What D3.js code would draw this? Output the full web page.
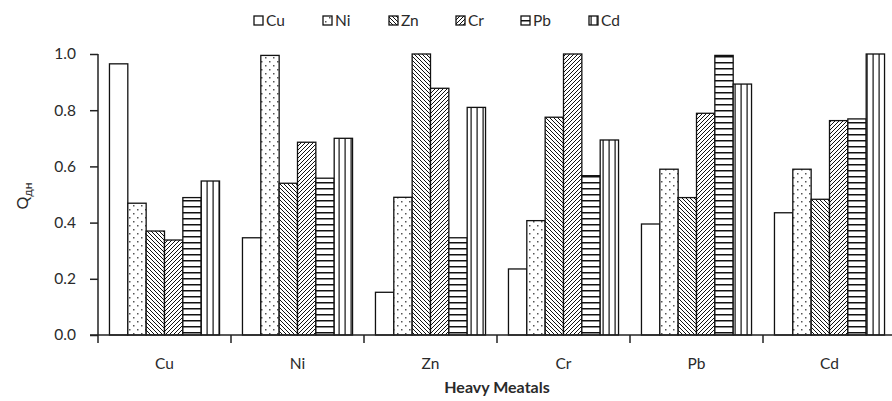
<!DOCTYPE html>
<html><head><meta charset="utf-8">
<script src="https://cdn.jsdelivr.net/npm/d3@7/dist/d3.min.js"></script>
<style>body{margin:0;background:#fff}svg{display:block}text{font-family:Lato,"Open Sans",sans-serif;fill:#2a2a2a}</style>
</head><body><svg id="c" width="892" height="401"></svg>
<script>
const categories = ["Cu","Ni","Zn","Cr","Pb","Cd"];
const series = ["Cu","Ni","Zn","Cr","Pb","Cd"];
const valCu = [0.965, 0.346, 0.152, 0.235, 0.395, 0.435];
const valNi = [0.469, 0.995, 0.490, 0.407, 0.590, 0.590];
const valZn = [0.370, 0.540, 1.000, 0.775, 0.489, 0.483];
const valCr = [0.338, 0.686, 0.878, 1.000, 0.789, 0.763];
const valPb = [0.489, 0.558, 0.346, 0.567, 0.995, 0.769];
const valCd = [0.548, 0.700, 0.810, 0.694, 0.893, 1.000];
const yTicks = [0, 0.2, 0.4, 0.6, 0.8, 1.0];
const values = {Cu: valCu, Ni: valNi, Zn: valZn, Cr: valCr, Pb: valPb, Cd: valCd};

const svg = d3.select("#c");
const defs = svg.append("defs");
function pat(id, w, h, draw){
  const p = defs.append("pattern").attr("id", id).attr("patternUnits","userSpaceOnUse").attr("width", w).attr("height", h);
  p.append("rect").attr("width", w).attr("height", h).attr("fill", "#fff");
  draw(p);
}
pat("pCu", 4, 4, p => {});
pat("pNi", 8, 8, p => {
  p.append("rect").attr("x",1).attr("y",1).attr("width",1.5).attr("height",1.5).attr("fill","#555");
  p.append("rect").attr("x",5).attr("y",5).attr("width",1.5).attr("height",1.5).attr("fill","#555");
});
pat("pZn", 4, 4, p => {
  p.append("path").attr("d","M0,0L4,4M-1,3L1,5M3,-1L5,1").attr("stroke","#111").attr("stroke-width",1);
});
pat("pCr", 4, 4, p => {
  p.append("path").attr("d","M0,4L4,0M-1,1L1,-1M3,5L5,3").attr("stroke","#111").attr("stroke-width",1);
});
pat("pPb", 6, 6, p => {
  p.append("rect").attr("x",0).attr("y",2).attr("width",6).attr("height",1.5).attr("fill","#111");
});
pat("pCd", 6, 6, p => {
  p.append("rect").attr("x",2.5).attr("y",0).attr("width",1.2).attr("height",6).attr("fill","#111");
});

const mLeft = 98, mRight = 896, mTop = 54, mBottom = 335;
const x0 = d3.scaleBand().domain(categories).range([mLeft, mRight]).padding(0);
const x1 = d3.scaleBand().domain(series).range([0, x0.bandwidth()]).paddingInner(0).paddingOuter(0.625);
const y = d3.scaleLinear().domain([0, 1]).range([mBottom, mTop]);

// bars
const g = svg.append("g");
categories.forEach((c, ci) => {
  series.forEach(s => {
    g.append("rect")
      .attr("x", x0(c) + x1(s))
      .attr("y", y(values[s][ci]))
      .attr("width", x1.bandwidth())
      .attr("height", y(0) - y(values[s][ci]))
      .attr("fill", "url(#p" + s + ")")
      .attr("stroke", "#111").attr("stroke-width", 1.3);
  });
});

// y axis
const yAxis = svg.append("g").attr("transform", `translate(${mLeft},0)`)
  .call(d3.axisLeft(y).tickValues(yTicks).tickFormat(d3.format(".1f")).tickSize(8).tickPadding(14));
yAxis.select(".domain").attr("stroke","#222").attr("stroke-width",1.5).attr("d", `M0,${mTop}V${mBottom+8}`);
yAxis.selectAll(".tick line").attr("stroke","#222").attr("stroke-width",1.5);
yAxis.selectAll(".tick text").attr("font-size", 15.5).attr("fill","#2a2a2a").style("font-family","Lato,sans-serif");

// x axis
svg.append("line").attr("x1", mLeft - 8).attr("x2", mRight).attr("y1", mBottom).attr("y2", mBottom)
  .attr("stroke","#222").attr("stroke-width",1.5);
categories.slice(1).forEach(c => {
  svg.append("line").attr("x1", x0(c)).attr("x2", x0(c)).attr("y1", mBottom).attr("y2", mBottom + 8)
    .attr("stroke","#222").attr("stroke-width",1.5);
});
categories.forEach(c => {
  svg.append("text").attr("x", x0(c) + x0.bandwidth()/2).attr("y", 369)
    .attr("text-anchor","middle").attr("font-size", 15.5).text(c);
});
svg.append("text").attr("x", (mLeft + mRight)/2).attr("y", 393).attr("text-anchor","middle")
  .attr("font-size", 16).attr("font-weight","bold").text("Heavy Meatals");

// y title
const yt = svg.append("text").attr("transform", "translate(28,196) rotate(-90)").attr("text-anchor","middle").attr("font-size", 16);
yt.append("tspan").text("Q");
yt.append("tspan").attr("font-size", 12).attr("dy", 4).text("дн");

// legend
const legX = [254, 323, 389, 456, 521, 589];
series.forEach((s, i) => {
  svg.append("rect").attr("x", legX[i]).attr("y", 16).attr("width", 9).attr("height", 9)
    .attr("fill", "url(#p" + s + ")").attr("stroke","#111").attr("stroke-width",1.3);
  svg.append("text").attr("x", legX[i] + 12).attr("y", 26).attr("font-size", 15.5).text(s);
});
</script></body></html>
